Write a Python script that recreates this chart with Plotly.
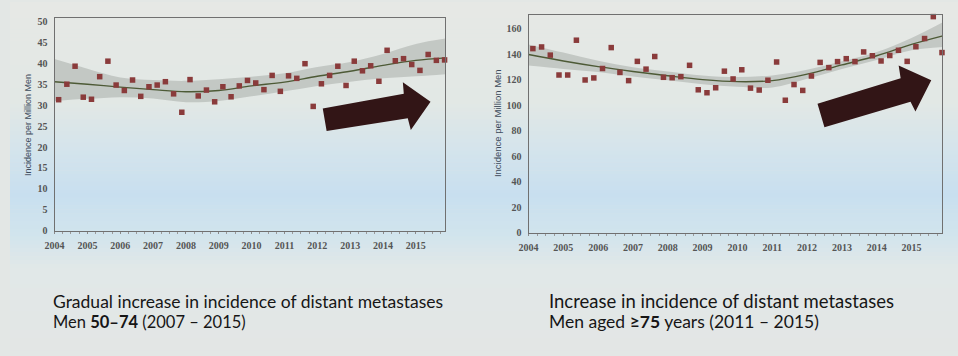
import plotly.graph_objects as go

# ---------------- data ----------------
quarters = [2004.125 + 0.25 * i for i in range(48)]

left_values = [31.3, 35.0, 39.3, 31.9, 31.4, 36.8, 40.5, 34.8, 33.5, 36.0, 32.1, 34.4,
               34.8, 35.6, 32.7, 28.3, 36.1, 32.2, 33.6, 30.8, 34.4, 32.0, 34.6, 35.9,
               35.3, 33.7, 37.1, 33.3, 37.0, 36.4, 39.9, 29.7, 35.1, 37.1, 39.3, 34.7,
               40.5, 38.2, 39.4, 35.7, 43.1, 40.6, 41.1, 39.7, 38.3, 42.1, 40.7, 40.8]

right_values = [144.4, 145.7, 139.3, 123.7, 123.7, 151.0, 119.8, 121.4, 128.8, 145.2, 125.7, 119.3,
                134.4, 128.3, 138.2, 121.9, 121.6, 122.4, 131.3, 112.1, 109.8, 113.7, 126.7, 120.6,
                127.8, 113.4, 111.9, 119.6, 133.9, 103.9, 116.2, 111.6, 122.9, 133.6, 129.5, 134.2,
                136.5, 134.2, 141.8, 138.8, 134.7, 139.0, 143.1, 134.4, 145.9, 152.3, 169.5, 141.3]

fit_x = [2004.0, 2005.0, 2006.0, 2007.0, 2008.0, 2009.0, 2010.0, 2011.0, 2012.0,
         2013.0, 2014.0, 2015.0, 2015.9]

left_fit = [35.6, 35.0, 34.3, 33.7, 33.2, 33.5, 34.6, 35.5, 36.9, 38.1, 39.5, 40.7, 41.3]
left_upper = [41.0, 38.7, 36.6, 36.0, 35.8, 36.2, 36.8, 37.6, 39.1, 40.3, 42.2, 44.6, 45.9]
left_lower = [31.0, 31.5, 31.9, 31.6, 30.7, 31.0, 32.1, 33.3, 34.6, 35.6, 36.4, 36.9, 37.4]

right_fit = [139.8, 134.7, 130.3, 126.5, 123.1, 120.1, 118.5, 119.3, 124.4, 131.6, 138.8, 147.7, 154.4]
right_upper = [147.7, 141.3, 134.9, 129.8, 126.5, 123.4, 122.1, 123.4, 127.8, 134.4, 141.8, 152.8, 165.1]
right_lower = [131.1, 128.5, 126.0, 122.6, 119.6, 116.5, 114.4, 113.9, 120.8, 128.5, 135.4, 143.1, 145.7]

year_ticks = list(range(2004, 2016))
left_yticks = list(range(0, 51, 5))
right_yticks = list(range(0, 161, 20))

y_title = "Incidence per Million Men"
left_caption = ["Gradual increase in incidence of distant metastases",
                "Men <b>50–74</b> (2007 – 2015)"]
right_caption = ["Increase in incidence of distant metastases",
                 "Men aged <b>≥75</b> years (2011 – 2015)"]

# ---------------- styling ----------------
W, H = 958, 356
MARKER = "#8a3b3b"
LINE = "#4d5a36"
BAND = "rgba(150,155,150,0.42)"
FRAME = "#707070"
TICKFONT = dict(family="Liberation Serif", size=10, color="#555555", weight="bold")

def px_x(p):
    return p / W

def px_y(p):
    return 1 - p / H

fig = go.Figure()

def add_panel(xa, ya, values, fit, upper, lower):
    fig.add_trace(go.Scatter(x=fit_x, y=lower, mode="lines", line=dict(width=0, shape="spline"),
                             xaxis=xa, yaxis=ya, showlegend=False, hoverinfo="skip"))
    fig.add_trace(go.Scatter(x=fit_x, y=upper, mode="lines", line=dict(width=0, shape="spline"),
                             fill="tonexty", fillcolor=BAND,
                             xaxis=xa, yaxis=ya, showlegend=False, hoverinfo="skip"))
    fig.add_trace(go.Scatter(x=fit_x, y=fit, mode="lines", line=dict(color=LINE, width=1.4, shape="spline"),
                             xaxis=xa, yaxis=ya, showlegend=False))
    fig.add_trace(go.Scatter(x=quarters, y=values, mode="markers",
                             marker=dict(symbol="square", size=5.5, color=MARKER),
                             xaxis=xa, yaxis=ya, showlegend=False, cliponaxis=False))

add_panel("x", "y", left_values, left_fit, left_upper, left_lower)
add_panel("x2", "y2", right_values, right_fit, right_upper, right_lower)

# background gradient (photographed projection)
bg_stops = [(0, (230, 232, 229)), (100, (226, 232, 229)), (150, (212, 228, 236)),
            (195, (200, 223, 239)), (235, (209, 228, 237)), (270, (225, 232, 232)),
            (356, (227, 230, 229))]
shapes = []
step = 4
for yy in range(0, H, step):
    for k in range(len(bg_stops) - 1):
        y0, c0 = bg_stops[k]
        y1, c1 = bg_stops[k + 1]
        if y0 <= yy <= y1:
            t = (yy - y0) / (y1 - y0)
            c = tuple(int(round(c0[j] + (c1[j] - c0[j]) * t)) for j in range(3))
            break
    shapes.append(dict(type="rect", xref="paper", yref="paper", x0=0, x1=1,
                       y0=px_y(yy + step + 0.5), y1=px_y(yy), line=dict(width=0),
                       fillcolor="rgb(%d,%d,%d)" % c, layer="below"))

def arrow_path(pts):
    return "M " + " L ".join("%.4f,%.4f" % (px_x(a), px_y(b)) for a, b in pts) + " Z"

left_arrow = [(316, 109), (398, 94), (397, 82), (425, 102), (405, 131), (402, 119), (320, 132)]
right_arrow = [(816, 104), (900, 78), (898, 65), (931, 80), (915, 112), (910, 102), (823, 128)]
for pts in (left_arrow, right_arrow):
    shapes.append(dict(type="path", xref="paper", yref="paper", path=arrow_path(pts),
                       fillcolor="#321516", line=dict(width=0), layer="above"))

annotations = []
annotations.append(dict(text=y_title, x=px_x(18), y=px_y(126), xref="paper", yref="paper",
                        xanchor="center", textangle=-90, showarrow=False,
                        font=dict(family="Liberation Sans", size=9, color="#3d4b5c")))
annotations.append(dict(text=y_title, x=px_x(492), y=px_y(124), xref="paper", yref="paper",
                        xanchor="center", textangle=-90, showarrow=False,
                        font=dict(family="Liberation Sans", size=9.5, color="#3d4b5c")))

caption_sizes_left = [17.5, 16.5]
caption_sizes_right = [18.5, 17.5]
for i, line in enumerate(left_caption):
    annotations.append(dict(text=line, x=px_x(41), y=px_y(306 + 21 * i), xref="paper", yref="paper",
                            xanchor="left", yanchor="middle", align="left", showarrow=False,
                            font=dict(family="Lato", size=caption_sizes_left[i], color="#161616")))
for i, line in enumerate(right_caption):
    annotations.append(dict(text=line, x=px_x(543), y=px_y(306 + 21 * i), xref="paper", yref="paper",
                            xanchor="left", yanchor="middle", align="left", showarrow=False,
                            font=dict(family="Lato", size=caption_sizes_right[i], color="#161616")))

def xaxis(dom, rng):
    return dict(domain=dom, range=rng, tickvals=year_ticks, ticktext=[str(v) for v in year_ticks],
                tickfont=TICKFONT, showgrid=False, zeroline=False, showline=True, linecolor=FRAME,
                linewidth=1, mirror=True, ticks="outside", ticklen=2, tickcolor="#8a8a8a",
                ticklabelstandoff=3,
                minor=dict(dtick=0.25, tick0=2004, ticks="outside", ticklen=2, tickcolor="#9a9a9a"),
                fixedrange=True)

def yaxis(dom, rng, ticks_):
    return dict(domain=dom, range=rng, tickvals=ticks_, tickfont=TICKFONT, showgrid=False,
                zeroline=False, showline=True, linecolor=FRAME, linewidth=1, mirror=True,
                ticks="", ticklabelstandoff=4, fixedrange=True)

fig.update_layout(
    width=W, height=H,
    margin=dict(l=0, r=0, t=0, b=0),
    paper_bgcolor="#e3e7e5",
    plot_bgcolor="rgba(0,0,0,0)",
    xaxis=xaxis([px_x(45), px_x(440)], [2004, 2015.9]),
    yaxis=yaxis([px_y(234), px_y(16)], [0, 50.9], left_yticks),
    xaxis2=xaxis([px_x(524), px_x(942)], [2004, 2015.88]),
    yaxis2=yaxis([px_y(236), px_y(13)], [0, 171], right_yticks),
    shapes=shapes,
    annotations=annotations,
)
fig.layout.xaxis2.anchor = "y2"
fig.layout.yaxis2.anchor = "x2"

fig.write_html("out.html")
